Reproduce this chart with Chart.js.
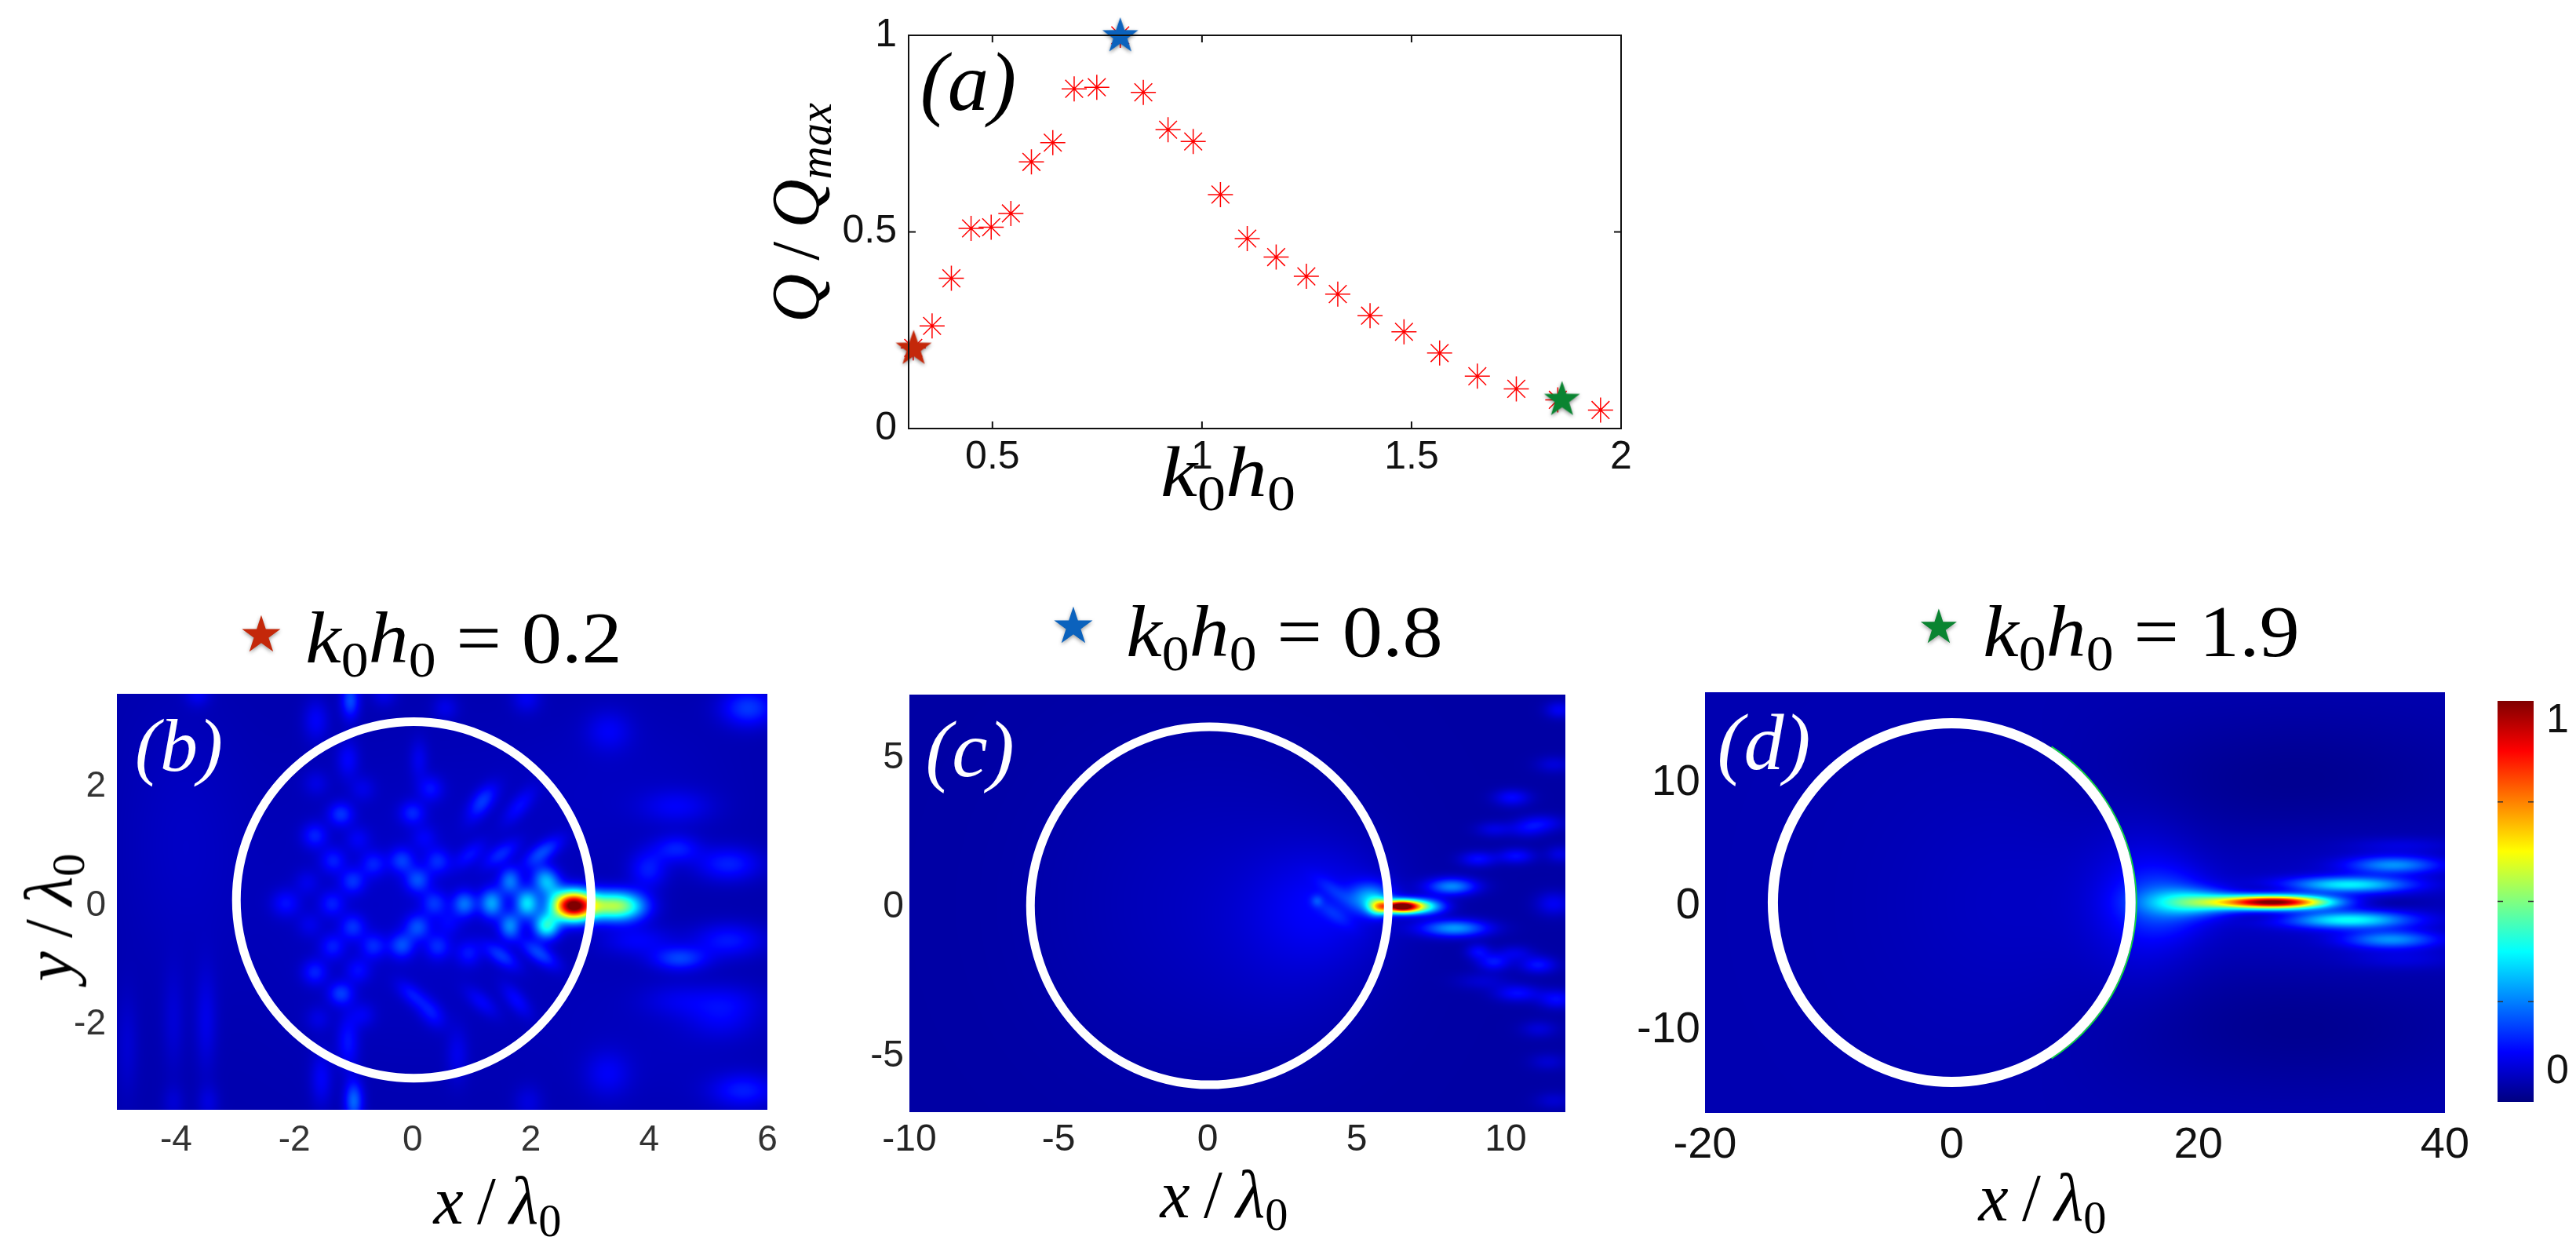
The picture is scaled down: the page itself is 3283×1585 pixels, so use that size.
<!DOCTYPE html>
<html>
<head>
<meta charset="utf-8">
<script src="https://cdn.jsdelivr.net/npm/chart.js@4"></script>
<style>
html, body { margin: 0; padding: 0; background: #fff; }
#page { position: relative; width: 3283px; height: 1585px; overflow: hidden; }
canvas { position: absolute; left: 0; top: 0; }
.m { position: absolute; white-space: nowrap; line-height: 1; font-family: "Liberation Serif", serif; color: #000; }
.m i { font-style: italic; }
.m sub { font-size: .68em; vertical-align: -.28em; line-height: 0; }
.s { position: absolute; line-height: 1; font-family: "DejaVu Sans", sans-serif; }
</style>
</head>
<body>
<div id="page">
<canvas id="chartA" width="3283" height="1585"></canvas>
<canvas id="chartB" width="3283" height="1585"></canvas>
<canvas id="chartC" width="3283" height="1585"></canvas>
<canvas id="chartD" width="3283" height="1585"></canvas>
<canvas id="chartBar" width="3283" height="1585"></canvas>
<div id="labels"></div>
</div>
<script>
// panel (a)
const k0h0 = [0.311, 0.356, 0.402, 0.449, 0.497, 0.544, 0.593, 0.644, 0.695, 0.749, 0.805, 0.860, 0.919, 0.979, 1.044, 1.108, 1.177, 1.249, 1.324, 1.401, 1.482, 1.567, 1.657, 1.750, 1.849, 1.951];
const qRatio = [0.205, 0.261, 0.382, 0.509, 0.512, 0.547, 0.678, 0.727, 0.864, 0.868, 1.0, 0.855, 0.760, 0.730, 0.595, 0.483, 0.436, 0.387, 0.342, 0.287, 0.246, 0.192, 0.133, 0.101, 0.073, 0.047];
const starX = [0.312, 0.805, 1.859];
const starY = [0.203, 0.998, 0.073];
const starColors = ['#c4280a', '#0b62bd', '#0a8431'];
const aXTicks = [0.5, 1, 1.5, 2];
const aYTicks = [0, 0.5, 1];

// panels (b)(c)(d): bright spots of the field, [x, y, value, width x, width y, tilt]
const fieldB = [
  [2.70, -0.06, 1.08, 0.24, 0.17], [3.23, -0.06, 0.33, 0.30, 0.17], [3.58, -0.07, 0.34, 0.28, 0.17],
  [1.93, -0.02, 0.32, 0.14, 0.17], [1.33, -0.02, 0.25, 0.14, 0.17], [0.87, -0.03, 0.19, 0.14, 0.15],
  [2.26, -0.40, 0.38, 0.15, 0.15], [2.26, 0.35, 0.28, 0.15, 0.18, 35], [1.64, -0.40, 0.22, 0.13, 0.16], [1.64, 0.35, 0.20, 0.13, 0.16],
  [2.19, 0.84, 0.15, 0.26, 0.11, 35], [1.49, 0.81, 0.11, 0.24, 0.11, 35], [2.13, -0.86, 0.15, 0.26, 0.11, -35], [1.49, -0.90, 0.13, 0.24, 0.11, -35],
  [-1.22, 1.48, 0.13, 0.15, 0.14], [-0.01, 1.50, 0.11, 0.15, 0.14], [-1.66, 1.12, 0.11], [-0.93, 1.06, 0.06], [0.19, 1.08, 0.06],
  [-1.35, 0.70, 0.10], [-0.67, 0.64, 0.10], [-0.19, 0.70, 0.13], [0.42, 0.69, 0.11], [0.96, 0.80, 0.08, 0.22, 0.11, 40],
  [-1.02, 0.35, 0.12], [0.08, 0.37, 0.15], [-1.79, 0.33, 0.05], [-2.15, -0.02, 0.09, 0.17, 0.16], [-1.37, -0.03, 0.10], [0.36, -0.02, 0.12],
  [-1.02, -0.42, 0.12], [0.08, -0.42, 0.15], [-1.75, -0.38, 0.05], [0.60, -0.35, 0.06],
  [-1.36, -0.75, 0.10], [-0.67, -0.74, 0.11], [-0.19, -0.73, 0.15], [0.42, -0.75, 0.11], [0.94, -0.86, 0.09],
  [-1.66, -1.18, 0.11], [-0.93, -1.15, 0.08], [-1.22, -1.54, 0.14, 0.15, 0.14], [-0.01, -1.56, 0.09, 0.22, 0.11, -40],
  [1.16, -1.68, 0.07, 0.24, 0.11, -40], [0.32, -1.87, 0.09, 0.20, 0.13, -50], [1.75, -1.65, 0.08, 0.24, 0.11, -50], [1.80, 1.62, 0.08, 0.26, 0.11, 50], [1.18, 1.62, 0.07, 0.26, 0.11, 50],
  [0.30, 1.91, 0.09], [1.16, 1.75, 0.08, 0.22, 0.11, 50], [-1.64, 2.0, 0.05], [-0.85, 1.91, 0.05], [-1.10, 2.40, 0.08, 0.13, 0.22], [0.10, 2.40, 0.06, 0.11, 0.24],
  [5.67, 3.27, 0.15, 0.32, 0.22], [-1.06, 3.40, 0.17, 0.11, 0.22], [-1.64, 3.06, 0.08, 0.15, 0.24], [1.92, 3.43, 0.07, 0.17, 0.17], [3.31, 2.88, 0.07, 0.27, 0.24], [0.55, 3.27, 0.06], [-3.64, 3.50, 0.07], [-0.49, 3.50, 0.06],
  [3.98, 0.55, 0.11, 0.22, 0.22], [4.46, 0.90, 0.11, 0.27, 0.16], [5.34, 0.64, 0.12, 0.38, 0.20], [4.51, -0.95, 0.15, 0.32, 0.14], [5.34, -0.64, 0.11, 0.42, 0.20], [3.80, -0.64, 0.08, 0.42, 0.18],
  [4.46, 1.61, 0.07, 0.42, 0.20], [4.46, -1.65, 0.05, 0.42, 0.20], [5.34, -1.65, 0.05, 0.42, 0.20],
  [-1.00, -3.35, 0.20, 0.11, 0.24], [-1.55, -2.97, 0.08, 0.13, 0.32], [-1.10, -2.36, 0.10, 0.13, 0.32], [0.75, -2.57, 0.06, 0.13, 0.32], [-0.85, -1.90, 0.06], [-1.60, -1.96, 0.05],
  [3.29, -2.89, 0.07, 0.27, 0.27], [5.59, -3.17, 0.11, 0.38, 0.20], [5.22, -1.96, 0.06, 0.42, 0.24], [-3.50, -2.00, 0.06, 0.13, 0.60], [-4.83, -2.40, 0.04, 0.13, 0.60], [-4.05, -2.00, 0.04, 0.13, 0.60],
  [-3.46, -3.37, 0.05, 0.13, 0.20], [-4.05, -3.37, 0.04, 0.13, 0.20], [1.95, -3.37, 0.05, 0.17, 0.20], [0.0, 0.0, 0.03, 1.8, 1.8], [-3.9, 1.0, 0.025, 0.7, 1.6], [3.6, 2.0, 0.02, 1.4, 1.0], [4.4, -2.4, 0.02, 1.4, 1.0]
];
const fieldC = [
  [6.47, -0.09, 1.08, 0.42, 0.15], [7.20, -0.09, 0.40, 0.50, 0.18], [5.72, -0.11, 0.40, 0.25, 0.20], [5.46, 0.19, 0.25, 0.50, 0.35],
  [4.23, 0.45, 0.06, 0.50, 0.18, -35], [3.66, 0.10, 0.08, 0.14, 0.14], [4.23, -0.34, 0.06, 0.50, 0.18, -35], [4.05, 0.0, 0.06, 1.50, 1.30],
  [8.18, 0.58, 0.25, 0.58, 0.20], [8.27, -0.82, 0.27, 0.78, 0.20],
  [9.06, 1.50, 0.11, 0.42, 0.18], [10.34, 1.60, 0.11, 0.42, 0.18], [9.59, 2.50, 0.07, 0.42, 0.18], [11.2, 2.70, 0.09, 0.52, 0.20], [10.2, 3.60, 0.06, 0.42, 0.18],
  [9.06, -1.60, 0.10, 0.28, 0.18], [9.59, -1.96, 0.12, 0.38, 0.20], [11.08, -2.05, 0.12, 0.42, 0.20], [10.38, -3.0, 0.11, 0.52, 0.20],
  [11.6, 0.0, 0.09, 0.42, 0.28], [11.7, -3.2, 0.11, 0.42, 0.22], [10.3, -1.65, 0.07, 0.42, 0.18], [9.2, -2.6, 0.05, 0.62, 0.20],
  [11.77, 6.5, 0.09, 0.32, 0.20], [10.7, 2.5, 0.07, 0.42, 0.20], [11.6, 4.67, 0.06, 0.42, 0.20], [10.2, 3.5, 0.05, 0.42, 0.20], [11.8, 1.66, 0.07, 0.32, 0.20],
  [11.1, -4.2, 0.06, 0.42, 0.20], [11.4, -5.3, 0.05, 0.42, 0.20], [11.6, -6.6, 0.05, 0.42, 0.20], [0.0, 0.0, 0.03, 3.5, 3.5], [3.0, -1.0, 0.03, 1.8, 2.0]
];
const fieldD = [
  [26.06, 0.06, 1.08, 3.1, 0.38], [19.9, 0.06, 0.30, 2.5, 0.70], [17.4, 0.06, 0.12, 2.5, 1.70], [15.7, 0.0, 0.08, 3.0, 4.0],
  [32.2, 1.48, 0.34, 3.4, 0.45], [32.2, -1.37, 0.36, 3.4, 0.48], [35.8, 3.07, 0.24, 2.6, 0.50], [35.6, -2.96, 0.24, 2.6, 0.50], [36.5, 4.65, 0.05, 3.0, 0.45], [36.6, -4.55, 0.05, 3.0, 0.55],
  [28, 9.5, -0.04, 10, 4.0], [28, -9.5, -0.04, 10, 4.0], [25.6, 1.16, -0.03, 2.5, 0.30], [25.6, -1.10, -0.03, 2.5, 0.30], [34.7, 0.0, -0.04, 2.5, 0.35],
  [30, 0.0, 0.03, 8, 5.0], [5, 0.0, 0.02, 7, 7]
];

// ticks
const bXTicks = [-4, -2, 0, 2, 4, 6];
const bYTicks = [-2, 0, 2];
const cXTicks = [-10, -5, 0, 5, 10];
const cYTicks = [-5, 0, 5];
const dXTicks = [-20, 0, 20, 40];
const dYTicks = [-10, 0, 10];
const barLabels = [0, 1];
const barMarks = [0.2, 0.486, 0.77];

const JET_MIN = -0.086;
const JET_MAX = 1.058;

function clamp(v) { return Math.max(0, Math.min(1, v)); }

function jet(v) {
    const t = clamp((v - JET_MIN) / (JET_MAX - JET_MIN));
    return [
        Math.round(255 * clamp(1.5 - Math.abs(4 * t - 3))),
        Math.round(255 * clamp(1.5 - Math.abs(4 * t - 2))),
        Math.round(255 * clamp(1.5 - Math.abs(4 * t - 1)))
    ];
}

// sums the spots on the plot area and paints it with the jet map
function heatPlugin(spots, base) {
    let image = null;
    return {
        id: 'heat',
        beforeDatasetsDraw(chart) {
            const area = chart.chartArea;
            const w = Math.round(area.right - area.left);
            const h = Math.round(area.bottom - area.top);
            if (!image) {
                const xs = chart.scales.x;
                const ys = chart.scales.y;
                const ux = Math.abs(xs.getPixelForValue(1) - xs.getPixelForValue(0));
                const uy = Math.abs(ys.getPixelForValue(1) - ys.getPixelForValue(0));
                const sum = new Float32Array(w * h).fill(base);
                spots.forEach(s => {
                    const px = xs.getPixelForValue(s[0]) - area.left;
                    const py = ys.getPixelForValue(s[1]) - area.top;
                    const sx = (s[3] || 0.15) * ux;
                    const sy = (s[4] || 0.15) * uy;
                    const a = (s[5] || 0) * Math.PI / 180;
                    const ca = Math.cos(a), sa = Math.sin(a);
                    const reach = 4 * Math.max(sx, sy);
                    for (let j = Math.max(0, Math.floor(py - reach)); j < Math.min(h, py + reach); j++) {
                        for (let i = Math.max(0, Math.floor(px - reach)); i < Math.min(w, px + reach); i++) {
                            const dx = i - px, dy = py - j;
                            const p = (dx * ca + dy * sa) / sx;
                            const q = (-dx * sa + dy * ca) / sy;
                            sum[j * w + i] += s[2] * Math.exp(-0.5 * (p * p + q * q));
                        }
                    }
                });
                image = chart.ctx.createImageData(w, h);
                for (let n = 0; n < sum.length; n++) {
                    const c = jet(sum[n]);
                    image.data[n * 4] = c[0];
                    image.data[n * 4 + 1] = c[1];
                    image.data[n * 4 + 2] = c[2];
                    image.data[n * 4 + 3] = 255;
                }
            }
            chart.ctx.putImageData(image, Math.round(area.left), Math.round(area.top));
        }
    };
}

function ringPlugin(cx, cy, r, lineWidth, edge) {
    return {
        id: 'ring',
        afterDatasetsDraw(chart) {
            const xs = chart.scales.x, ys = chart.scales.y, ctx = chart.ctx;
            const px = xs.getPixelForValue(cx), py = ys.getPixelForValue(cy);
            const rx = Math.abs(xs.getPixelForValue(cx + r) - px);
            const ry = Math.abs(ys.getPixelForValue(cy + r) - py);
            ctx.save();
            if (edge) {
                ctx.strokeStyle = '#12d83c';
                ctx.lineWidth = 2;
                ctx.beginPath();
                ctx.ellipse(px, py, rx + lineWidth / 2 + 1, ry + lineWidth / 2 + 1, 0, -1.0, 1.0);
                ctx.stroke();
            }
            ctx.strokeStyle = '#fff';
            ctx.lineWidth = lineWidth;
            ctx.beginPath();
            ctx.ellipse(px, py, rx, ry, 0, 0, Math.PI * 2);
            ctx.stroke();
            ctx.restore();
        }
    };
}

// tick marks that point into the plot, on the four sides when box is set
function marksPlugin(xMarks, yMarks, box) {
    return {
        id: 'marks',
        afterDraw(chart) {
            const a = chart.chartArea, ctx = chart.ctx;
            ctx.save();
            ctx.strokeStyle = '#111';
            ctx.lineWidth = 2;
            if (box) ctx.strokeRect(a.left, a.top, a.right - a.left, a.bottom - a.top);
            ctx.beginPath();
            xMarks.forEach(v => {
                const p = chart.scales.x.getPixelForValue(v);
                ctx.moveTo(p, a.bottom); ctx.lineTo(p, a.bottom - 9);
                ctx.moveTo(p, a.top); ctx.lineTo(p, a.top + 9);
            });
            yMarks.forEach(v => {
                const p = chart.scales.y.getPixelForValue(v);
                ctx.moveTo(a.left, p); ctx.lineTo(a.left + 9, p);
                ctx.moveTo(a.right, p); ctx.lineTo(a.right - 9, p);
            });
            ctx.stroke();
            ctx.restore();
        }
    };
}

function starSprite(color) {
    const c = document.createElement('canvas');
    c.width = 64; c.height = 64;
    const g = c.getContext('2d');
    g.shadowColor = 'rgba(0,0,0,.45)';
    g.shadowBlur = 5;
    g.shadowOffsetY = 2;
    g.fillStyle = color;
    g.beginPath();
    for (let i = 0; i < 10; i++) {
        const r = i % 2 ? 9.5 : 24;
        const a = -Math.PI / 2 + i * Math.PI / 5;
        g.lineTo(32 + r * Math.cos(a), 32 + r * Math.sin(a));
    }
    g.closePath();
    g.fill();
    return c;
}

// plot box is given in page pixels, canvases all cover the page
function axisOptions(xRange, yRange, xTicks, yTicks, size, color, yOffset, xPad, yPad) {
    const tick = { font: { family: 'Liberation Sans', size: size }, color: color, autoSkip: false, maxRotation: 0, minRotation: 0, callback: v => String(v) };
    return {
        x: {
            type: 'linear', min: xRange[0], max: xRange[1],
            grid: { display: false, drawTicks: false }, border: { display: false },
            afterBuildTicks: s => { s.ticks = xTicks.map(v => ({ value: v })); },
            afterFit: s => { s.height = 90; },
            ticks: Object.assign({ padding: xPad }, tick)
        },
        y: {
            type: 'linear', min: yRange[0], max: yRange[1],
            grid: { display: false, drawTicks: false }, border: { display: false },
            afterBuildTicks: s => { s.ticks = yTicks.map(v => ({ value: v })); },
            afterFit: s => { s.width = 100; },
            ticks: Object.assign({ padding: yPad, labelOffset: yOffset }, tick)
        }
    };
}

function boxPadding(box) {
    return { left: box[0] - 100, top: box[1], right: 3283 - box[2], bottom: 1585 - box[3] - 90 };
}

function heatChart(id, box, xRange, yRange, xTicks, yTicks, field, base, size, color, xPad, yPad, ring) {
    return new Chart(document.getElementById(id), {
        type: 'scatter',
        data: { datasets: [{ data: field.map(s => ({ x: s[0], y: s[1] })), pointRadius: 0 }] },
        options: {
            responsive: false, animation: false, devicePixelRatio: 1,
            layout: { padding: boxPadding(box) },
            plugins: { legend: { display: false }, tooltip: { enabled: false } },
            scales: axisOptions(xRange, yRange, xTicks, yTicks, size, color, 5, xPad, yPad)
        },
        plugins: [heatPlugin(field, base), ringPlugin(ring[0], ring[1], ring[2], ring[3], ring[4])]
    });
}

const boxA = [1158, 37, 2066, 546];

new Chart(document.getElementById('chartA'), {
    type: 'scatter',
    data: {
        datasets: [
            {
                data: k0h0.map((x, i) => ({ x: x, y: qRatio[i] })),
                pointStyle: 'star', pointRadius: 16, borderColor: '#ff0000', borderWidth: 1.5, backgroundColor: 'transparent', clip: false, order: 2
            },
            {
                data: starX.map((x, i) => ({ x: x, y: starY[i] })),
                pointStyle: starColors.map(starSprite), pointRadius: 25, clip: false, order: 1
            }
        ]
    },
    options: {
        responsive: false, animation: false, devicePixelRatio: 1,
        layout: { padding: boxPadding(boxA) },
        plugins: { legend: { display: false }, tooltip: { enabled: false } },
        scales: axisOptions([0.3, 2], [0, 1], aXTicks, aYTicks, 50, '#111', 0, 7, 15)
    },
    plugins: [marksPlugin(aXTicks, aYTicks, true)]
});

heatChart('chartB', [149, 884, 978, 1414], [-5, 6], [-3.5, 3.5], bXTicks, bYTicks, fieldB, -0.035, 46, '#333', 12, 14, [0.02, 0.03, 3.0, 11, false]);
heatChart('chartC', [1159, 885, 1995, 1417], [-10, 12], [-7, 7], cXTicks, cYTicks, fieldC, -0.045, 48, '#222', 7, 7, [0.06, -0.08, 6.0, 11, false]);
heatChart('chartD', [2173, 882, 3116, 1418], [-20, 40], [-17, 17], dXTicks, dYTicks, fieldD, -0.03, 56, '#111', 8, 6, [0, 0, 14.5, 13, true]);

// colour bar: one floating bar on a value axis
const boxBar = [3183, 893, 3229, 1404];
new Chart(document.getElementById('chartBar'), {
    type: 'bar',
    data: {
        labels: [''],
        datasets: [{
            data: [[JET_MIN, JET_MAX]],
            barPercentage: 1, categoryPercentage: 1, borderSkipped: false,
            backgroundColor: ctx => {
                const area = ctx.chart.chartArea;
                if (!area) return '#00f';
                const grad = ctx.chart.ctx.createLinearGradient(0, area.bottom, 0, area.top);
                for (let i = 0; i <= 32; i++) {
                    const c = jet(JET_MIN + (JET_MAX - JET_MIN) * i / 32);
                    grad.addColorStop(i / 32, `rgb(${c[0]},${c[1]},${c[2]})`);
                }
                return grad;
            }
        }]
    },
    options: {
        responsive: false, animation: false, devicePixelRatio: 1,
        layout: { padding: { left: boxBar[0], top: boxBar[1], right: 0, bottom: 1585 - boxBar[3] } },
        plugins: { legend: { display: false }, tooltip: { enabled: false } },
        scales: {
            x: { display: false },
            y: {
                position: 'right', min: JET_MIN, max: JET_MAX,
                grid: { display: false, drawTicks: false }, border: { display: false },
                afterBuildTicks: s => { s.ticks = barLabels.map(v => ({ value: v })); },
                afterFit: s => { s.width = 3283 - boxBar[2]; },
                ticks: { font: { family: 'Liberation Sans', size: 52 }, color: '#111', padding: 16, autoSkip: false, callback: v => String(v) }
            }
        }
    },
    plugins: [{
        id: 'barMarks',
        afterDraw(chart) {
            const a = chart.chartArea, ctx = chart.ctx;
            ctx.save();
            ctx.strokeStyle = '#333';
            ctx.lineWidth = 1.5;
            ctx.beginPath();
            barMarks.forEach(v => {
                const p = chart.scales.y.getPixelForValue(v);
                ctx.moveTo(a.left, p); ctx.lineTo(a.left + 7, p);
                ctx.moveTo(a.right, p); ctx.lineTo(a.right - 7, p);
            });
            ctx.stroke();
            ctx.restore();
        }
    }]
});

// axis titles and panel letters, placed by their centre
const SL = '&#8201;/&#8201;';
const KH = '<i>k</i><sub>0</sub><i>h</i><sub>0</sub>';
const XL = '<i>x</i>' + SL + '<i>λ</i><sub>0</sub>';
const YL = '<i>y</i>' + SL + '<i>λ</i><sub>0</sub>';
const QL = '<i>Q</i>' + SL + '<i>Q</i><sub><i>max</i></sub>';
const mathLabels = [
    [KH, 1565, 601, 92, 1.15, 1, 0, '#000'],
    [QL, 1014, 271, 86, 1, 1, -90, '#000'],
    ['<i>(a)</i>', 1234, 104, 105, 1, 1, 0, '#000'],
    [KH + ' = 0.2', 591, 812, 94, 1.09, 1, 0, '#000'],
    [KH + ' = 0.8', 1637, 804, 94, 1.09, 1, 0, '#000'],
    [KH + ' = 1.9', 2729, 804, 94, 1.09, 1, 0, '#000'],
    ['<i>(b)</i>', 228, 950, 96, 1, 1, 0, '#fff'],
    ['<i>(c)</i>', 1236, 955, 102, 1, 1, 0, '#fff'],
    ['<i>(d)</i>', 2248, 946, 102, 1, 1, 0, '#fff'],
    [XL, 634, 1530, 86, 1, 1, 0, '#000'],
    [XL, 1560, 1522, 86, 1, 1, 0, '#000'],
    [XL, 2603, 1526, 86, 1, 1, 0, '#000'],
    [YL, 62, 1169, 86, 1, 1, -90, '#000']
];
const titleStars = [
    [333, 808, 64, starColors[0]],
    [1368, 797, 64, starColors[1]],
    [2471, 798, 60, starColors[2]]
];

const labelBox = document.getElementById('labels');
mathLabels.forEach(l => {
    const el = document.createElement('div');
    el.className = 'm';
    el.innerHTML = l[0];
    el.style.left = l[1] + 'px';
    el.style.top = l[2] + 'px';
    el.style.fontSize = l[3] + 'px';
    el.style.color = l[7];
    el.style.transform = `translate(-50%,-50%) rotate(${l[6]}deg) scale(${l[4]},${l[5]})`;
    labelBox.appendChild(el);
});
titleStars.forEach(s => {
    const el = document.createElement('div');
    el.className = 's';
    el.textContent = '★';
    el.style.left = s[0] + 'px';
    el.style.top = s[1] + 'px';
    el.style.fontSize = s[2] + 'px';
    el.style.color = s[3];
    el.style.textShadow = '0 2px 5px rgba(0,0,0,.4)';
    el.style.transform = 'translate(-50%,-50%)';
    labelBox.appendChild(el);
});
</script>
</body>
</html>
